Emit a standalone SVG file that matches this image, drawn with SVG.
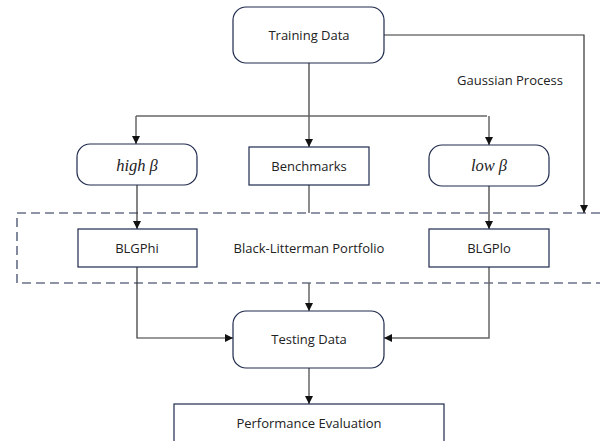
<svg xmlns="http://www.w3.org/2000/svg" width="600" height="441" viewBox="0 0 600 441">
<style>
.box{fill:#fff;stroke:#1f2a4d;stroke-width:1.2}
.t{font-family:"Open Sans","Noto Sans",sans-serif;font-size:13px;fill:#222;text-anchor:middle;dominant-baseline:central}
.it{font-family:"Liberation Serif",serif;font-style:italic;font-size:16.5px;fill:#222;text-anchor:middle;dominant-baseline:central}
.c{fill:none;stroke:#333;stroke-width:1.2}
.g{fill:none;stroke:#666;stroke-width:1.5}
</style>
<defs>
<marker id="a" viewBox="0 0 10 10" refX="10" refY="5" markerWidth="8" markerHeight="8" markerUnits="userSpaceOnUse" orient="auto"><path d="M0,0L10,5L0,10z" fill="#111"/></marker>
</defs>
<g id="blportfolio">
<path d="M600,213H17V283H600" fill="none" stroke="#1f2a4d" stroke-width="1.1" stroke-dasharray="9,5"/>
<text class="t" x="309" y="248">Black-Litterman Portfolio</text>
</g>
<g id="connectors">
<path class="c" d="M384,35H584V213" marker-end="url(#a)"/>
<path class="c" d="M309,63V116" stroke-width="1.8"/>
<path class="g" d="M136,116H487"/>
<path class="g" d="M136,116V144" marker-end="url(#a)"/>
<path class="g" d="M309,116V147" marker-end="url(#a)"/>
<path class="g" d="M489,116V145" marker-end="url(#a)"/>
<path class="c" d="M137,185V229" marker-end="url(#a)"/>
<path class="g" d="M309,185V213"/>
<path class="c" d="M489,186V229" marker-end="url(#a)"/>
<path class="c" d="M137,267V338H233" marker-end="url(#a)"/>
<path class="g" d="M489,267V338H384" marker-end="url(#a)"/>
<path class="g" d="M309,283V311" marker-end="url(#a)"/>
<path class="g" d="M309,368V404" marker-end="url(#a)"/>
<text class="t" x="510" y="80">Gaussian Process</text>
</g>
<g id="training"><rect class="box" x="233" y="7" width="151" height="56" rx="13"/><text class="t" x="309" y="35">Training Data</text></g>
<g id="highbeta"><rect class="box" x="77" y="144" width="120" height="41" rx="13"/><text class="it" x="137" y="165">high β</text></g>
<g id="benchmarks"><rect class="box" x="249" y="147" width="120" height="38"/><text class="t" x="309" y="166">Benchmarks</text></g>
<g id="lowbeta"><rect class="box" x="429" y="145" width="120" height="41" rx="13"/><text class="it" x="489" y="165">low β</text></g>
<g id="blgphi"><rect class="box" x="78" y="229" width="119" height="38"/><text class="t" x="137" y="248">BLGPhi</text></g>
<g id="blgplo"><rect class="box" x="429" y="229" width="120" height="38"/><text class="t" x="489" y="248">BLGPlo</text></g>
<g id="testing"><rect class="box" x="233" y="311" width="151" height="57" rx="13"/><text class="t" x="309" y="339">Testing Data</text></g>
<g id="perf"><rect class="box" x="174" y="404" width="270" height="45"/><text class="t" x="309" y="423">Performance Evaluation</text></g>
</svg>
